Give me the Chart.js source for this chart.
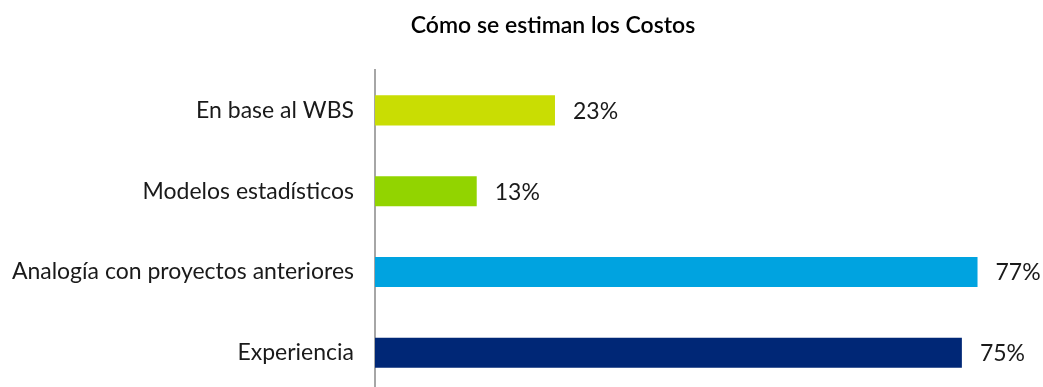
<!DOCTYPE html>
<html>
<head>
<meta charset="utf-8">
<script src="https://cdn.jsdelivr.net/npm/chart.js@4/dist/chart.umd.min.js"></script>
<style>
  html, body { margin: 0; padding: 0; background: #fff; overflow: hidden; }
  canvas { display: block; }
</style>
</head>
<body>
<canvas id="c" width="1043" height="428"></canvas>
<script>
const chartTitle = 'Cómo se estiman los Costos';
const categories = ['En base al WBS', 'Modelos estadísticos', 'Analogía con proyectos anteriores', 'Experiencia'];
const values = [23, 13, 77, 75];
const barColors = ['#c9dd03', '#92d400', '#00a3e0', '#002776'];

const FONT = 'Lato, "Open Sans", sans-serif';

// Title centred over the plot, drawn above the chart area
const titlePlugin = {
  id: 'titleText',
  afterDraw(chart) {
    const ctx = chart.ctx;
    ctx.save();
    ctx.font = '600 23px ' + FONT;
    ctx.fillStyle = '#000';
    ctx.textAlign = 'center';
    ctx.textBaseline = 'alphabetic';
    ctx.fillText(chartTitle, 553, 33);
    ctx.restore();
  }
};

// Percentage labels just past the end of each bar
const valueLabels = {
  id: 'valueLabels',
  afterDatasetsDraw(chart) {
    const ctx = chart.ctx;
    const meta = chart.getDatasetMeta(0);
    ctx.save();
    ctx.font = '23px ' + FONT;
    ctx.fillStyle = '#1a1a1a';
    ctx.textAlign = 'left';
    ctx.textBaseline = 'middle';
    meta.data.forEach((bar, i) => {
      ctx.fillText(values[i] + '%', bar.x + 18, bar.y + 1);
    });
    ctx.restore();
  }
};

new Chart(document.getElementById('c'), {
  type: 'bar',
  data: {
    labels: categories,
    datasets: [{
      data: values,
      backgroundColor: barColors,
      borderWidth: 0,
      categoryPercentage: 0.372,
      barPercentage: 1
    }]
  },
  options: {
    indexAxis: 'y',
    responsive: false,
    maintainAspectRatio: false,
    devicePixelRatio: 1,
    animation: false,
    layout: { padding: { top: 70, right: 42, bottom: 0, left: 0 } },
    plugins: {
      legend: { display: false },
      title: { display: false },
      tooltip: { enabled: false }
    },
    scales: {
      x: {
        display: false,
        min: 0,
        max: 80
      },
      y: {
        afterFit(scale) { scale.width = 375; },
        grid: { display: false, drawTicks: false },
        border: { display: true, color: '#a6a6a6', width: 2 },
        ticks: {
          padding: 21,
          color: '#1a1a1a',
          font: { family: FONT, size: 23 }
        }
      }
    }
  },
  plugins: [titlePlugin, valueLabels]
});
</script>
</body>
</html>
